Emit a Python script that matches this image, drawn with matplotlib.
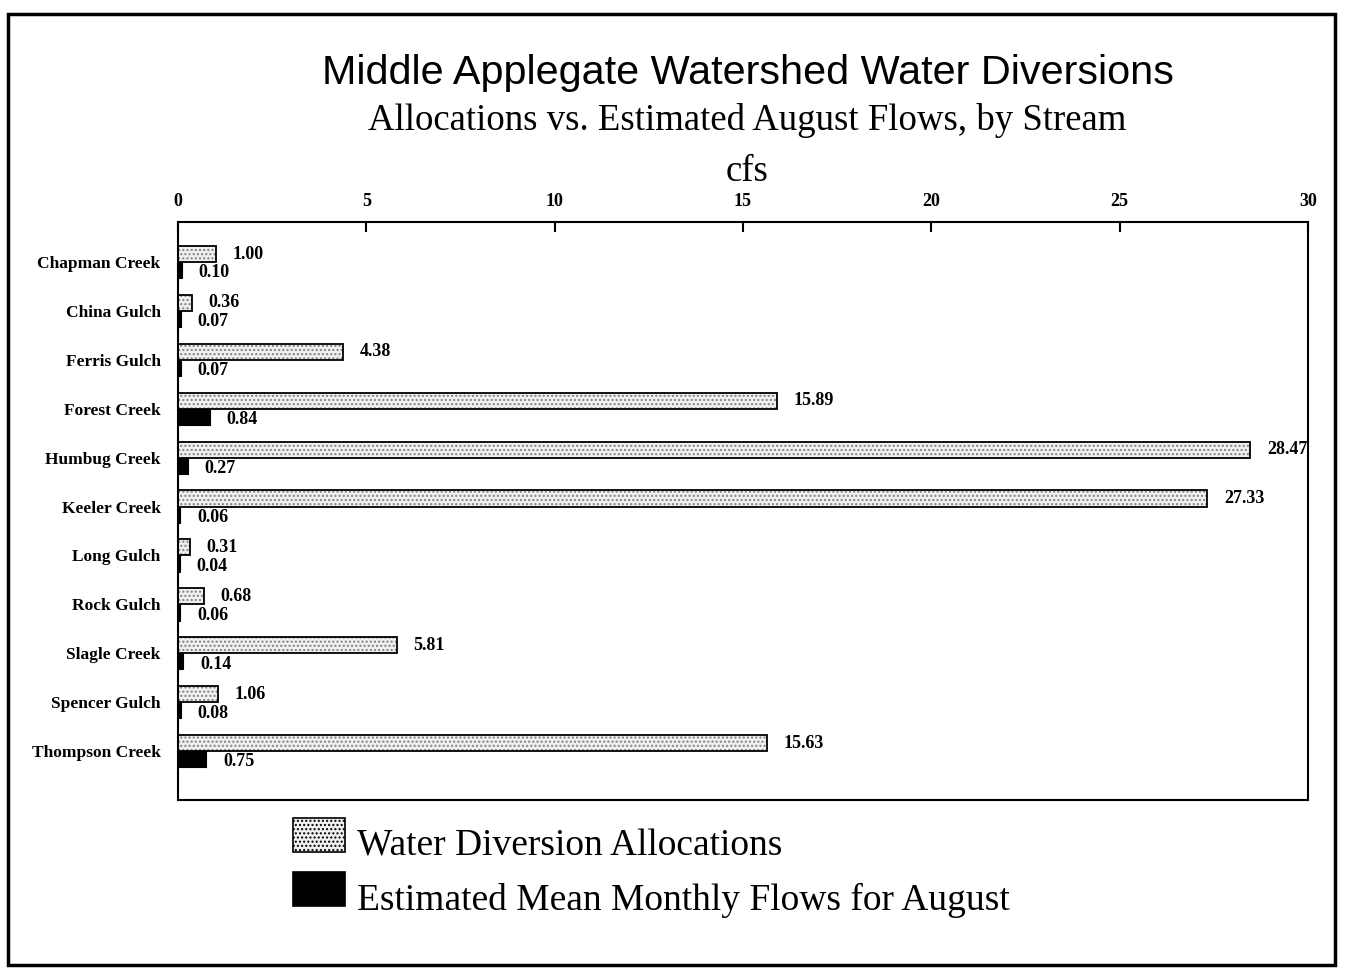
import matplotlib.pyplot as plt
from matplotlib.patches import Rectangle

# streams, top to bottom
streams = ['Chapman Creek', 'China Gulch', 'Ferris Gulch', 'Forest Creek', 'Humbug Creek',
           'Keeler Creek', 'Long Gulch', 'Rock Gulch', 'Slagle Creek', 'Spencer Gulch',
           'Thompson Creek']
allocations = [1.00, 0.36, 4.38, 15.89, 28.47, 27.33, 0.31, 0.68, 5.81, 1.06, 15.63]
august_flows = [0.10, 0.07, 0.07, 0.84, 0.27, 0.06, 0.04, 0.06, 0.14, 0.08, 0.75]
x_ticks = [0, 5, 10, 15, 20, 25, 30]

serif = 'Liberation Serif'
sans = 'Liberation Sans'

fig = plt.figure(figsize=(13.45, 9.68), dpi=100)
ax = fig.add_axes([178 / 1345, 1 - 800 / 968, 1130 / 1345, 578 / 968])

bar_h = 0.33
y = list(range(len(streams)))
y_alloc = [i - bar_h / 2 for i in y]
y_flow = [i + bar_h / 2 for i in y]

# stippled fill, then a crisp outline on top
ax.barh(y_alloc, allocations, height=bar_h, color='#f0f0f0', edgecolor='#808080',
        hatch='....', linewidth=0, zorder=2)
ax.barh(y_alloc, allocations, height=bar_h, fill=False, edgecolor='black',
        linewidth=1.3, zorder=3)
ax.barh(y_flow, august_flows, height=bar_h, color='black', edgecolor='black',
        linewidth=0.8, zorder=3)

for i in y:
    ax.annotate(f'{allocations[i]:.2f}', (allocations[i], y_alloc[i]), xytext=(12, 0),
                textcoords='offset points', va='center', ha='left',
                family=serif, fontweight='bold', fontsize=13)
    ax.annotate(f'{august_flows[i]:.2f}', (august_flows[i], y_flow[i]), xytext=(12, -2),
                textcoords='offset points', va='center', ha='left',
                family=serif, fontweight='bold', fontsize=13)

ax.set_xlim(0, 30)
ax.set_ylim(11.0, -0.82)
ax.set_xticks(x_ticks)
ax.set_xticklabels([str(t) for t in x_ticks], family=serif, fontweight='bold', fontsize=13)
ax.xaxis.tick_top()
ax.tick_params(axis='x', direction='in', length=7, width=1.5, pad=9)
ax.set_yticks(y)
ax.set_yticklabels(streams, family=serif, fontweight='bold', fontsize=12.5)
ax.tick_params(axis='y', length=0, pad=12.5)
for s in ax.spines.values():
    s.set_linewidth(1.5)

# titles
fig.text(748 / 1345, 1 - 73 / 968, 'Middle Applegate Watershed Water Diversions',
         family=sans, fontsize=29.8, ha='center', va='center')
fig.text(747 / 1345, 1 - 121 / 968, 'Allocations vs. Estimated August Flows, by Stream',
         family=serif, fontsize=26.5, ha='center', va='center')
fig.text(747 / 1345, 1 - 172 / 968, 'cfs', family=serif, fontsize=26.5,
         ha='center', va='center')

# legend drawn by hand to match the scanned layout
fig.patches.append(Rectangle((293 / 1345, 1 - 852 / 968), 52 / 1345, 34 / 968,
                             transform=fig.transFigure, facecolor='#f0f0f0',
                             edgecolor='black', hatch='....', linewidth=1.2))
fig.patches.append(Rectangle((293 / 1345, 1 - 906 / 968), 52 / 1345, 34 / 968,
                             transform=fig.transFigure, facecolor='black',
                             edgecolor='black', linewidth=1.2))
fig.text(357 / 1345, 1 - 846 / 968, 'Water Diversion Allocations', family=serif,
         fontsize=27, ha='left', va='center')
fig.text(357 / 1345, 1 - 900 / 968, 'Estimated Mean Monthly Flows for August',
         family=serif, fontsize=27, ha='left', va='center')

# outer frame of the page
fig.patches.append(Rectangle((8 / 1345, 1 - 965 / 968), 1327 / 1345, 951 / 968,
                             transform=fig.transFigure, fill=False,
                             edgecolor='black', linewidth=2.5))

fig.savefig('out.png', dpi=100)
